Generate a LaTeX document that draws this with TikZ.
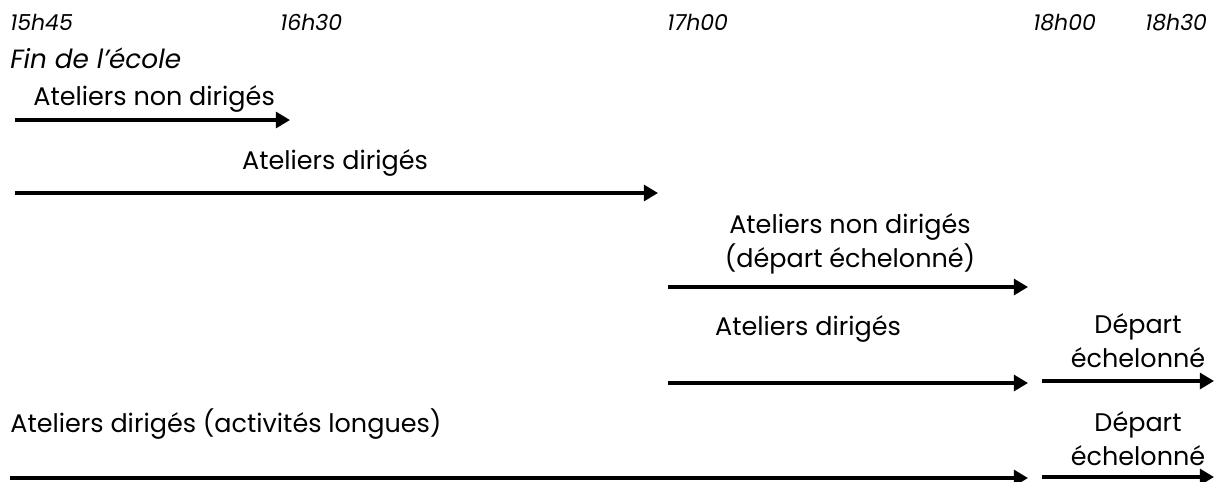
\documentclass[tikz,border=0pt]{standalone}
\usepackage{fontspec}
\setmainfont{Poppins}
\usetikzlibrary{arrows.meta}

\tikzset{
    heure/.style={anchor=base west, inner sep=0pt, font=\fontsize{12.5}{14}\selectfont\itshape},
    atelier/.style={anchor=base, inner sep=0pt, align=center, font=\fontsize{14.5}{19}\selectfont},
    fleche/.style={line width=1.9pt, -{Triangle[length=8pt, width=9pt]}}
}

\begin{document}
\begin{tikzpicture}[x=0.02cm, y=-0.02cm]
    \useasboundingbox (0,0) rectangle (1214,481);

    % les heures
    \node[heure] (h1545) at (10,30) {15h45};
    \node[heure] (h1630) at (280,30) {16h30};
    \node[heure] (h1700) at (667,30) {17h00};
    \node[heure] (h1800) at (1033,30) {18h00};
    \node[heure] (h1830) at (1145,30) {18h30};
    \node[heure, font=\fontsize{15}{17}\selectfont\itshape] (fin) at (10,68) {Fin de l'école};

    % les ateliers
    \node[atelier, anchor=base west] (nondir) at (33,105) {Ateliers non dirigés};
    \node[atelier] (dir) at (335,169) {Ateliers dirigés};
    \node[atelier] (nondirb) at (850,267) {Ateliers non dirigés\\(départ échelonné)};
    \node[atelier] (dirb) at (808,335) {Ateliers dirigés};
    \node[atelier] (depa) at (1138,367) {Départ\\échelonné};
    \node[atelier, anchor=base west] (longues) at (10,432) {Ateliers dirigés (activités longues)};
    \node[atelier] (depb) at (1138,465) {Départ\\échelonné};

    \coordinate (a1) at (15,120);   \coordinate (b1) at (290,120);
    \coordinate (a2) at (15,193);   \coordinate (b2) at (658,193);
    \coordinate (a3) at (668,287);  \coordinate (b3) at (1028,287);
    \coordinate (a4) at (668,383);  \coordinate (b4) at (1028,383);
    \coordinate (a5) at (1042,381); \coordinate (b5) at (1214,381);
    \coordinate (a6) at (10,478);   \coordinate (b6) at (1028,478);
    \coordinate (a7) at (1042,477); \coordinate (b7) at (1214,477);

    \draw[fleche] (a1) -- (b1);
    \draw[fleche] (a2) -- (b2);
    \draw[fleche] (a3) -- (b3);
    \draw[fleche] (a4) -- (b4);
    \draw[fleche] (a5) -- (b5);
    \draw[fleche] (a6) -- (b6);
    \draw[fleche] (a7) -- (b7);

\end{tikzpicture}
\end{document}
